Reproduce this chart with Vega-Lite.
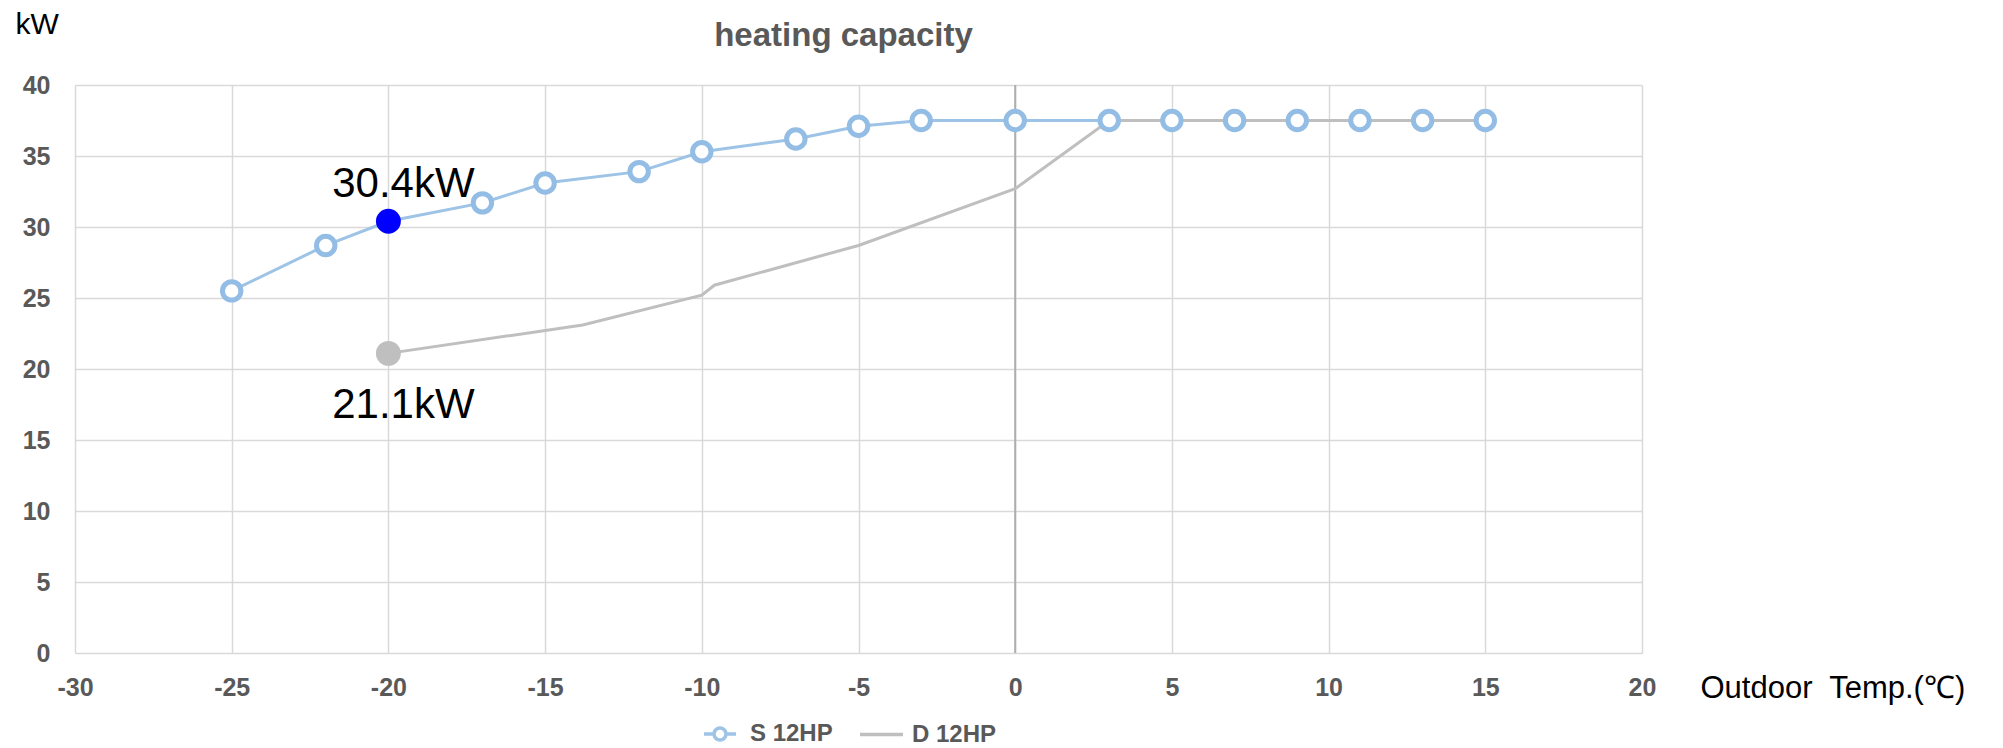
{
  "$schema": "https://vega.github.io/schema/vega-lite/v6.json",
  "autosize": "none",
  "width": 1567,
  "height": 568,
  "padding": {"left": 75, "top": 85, "right": 361, "bottom": 95},
  "background": "white",
  "title": {
    "text": "heating capacity",
    "frame": "group",
    "anchor": "middle",
    "offset": -37,
    "baseline": "alphabetic",
    "dx": -15,
    "dy": 33,
    "font": "Liberation Sans",
    "fontSize": 33,
    "fontWeight": "bold",
    "color": "#595959"
  },
  "config": {
    "font": "Liberation Sans",
    "view": {"stroke": null}
  },
  "datasets": {
    "cap": [
      {"series": "S 12HP", "t": -25, "kw": 25.5},
      {"series": "S 12HP", "t": -22, "kw": 28.7},
      {"series": "S 12HP", "t": -20, "kw": 30.4},
      {"series": "S 12HP", "t": -17, "kw": 31.7},
      {"series": "S 12HP", "t": -15, "kw": 33.1},
      {"series": "S 12HP", "t": -12, "kw": 33.9},
      {"series": "S 12HP", "t": -10, "kw": 35.3},
      {"series": "S 12HP", "t": -7, "kw": 36.2},
      {"series": "S 12HP", "t": -5, "kw": 37.1},
      {"series": "S 12HP", "t": -3, "kw": 37.5},
      {"series": "S 12HP", "t": 0, "kw": 37.5},
      {"series": "S 12HP", "t": 3, "kw": 37.5},
      {"series": "S 12HP", "t": 5, "kw": 37.5},
      {"series": "S 12HP", "t": 7, "kw": 37.5},
      {"series": "S 12HP", "t": 9, "kw": 37.5},
      {"series": "S 12HP", "t": 11, "kw": 37.5},
      {"series": "S 12HP", "t": 13, "kw": 37.5},
      {"series": "S 12HP", "t": 15, "kw": 37.5},
      {"series": "D 12HP", "t": -20, "kw": 21.1},
      {"series": "D 12HP", "t": -13.8, "kw": 23.1},
      {"series": "D 12HP", "t": -10, "kw": 25.2},
      {"series": "D 12HP", "t": -9.6, "kw": 25.9},
      {"series": "D 12HP", "t": -5, "kw": 28.7},
      {"series": "D 12HP", "t": 0, "kw": 32.7},
      {"series": "D 12HP", "t": 3, "kw": 37.5},
      {"series": "D 12HP", "t": 5, "kw": 37.5},
      {"series": "D 12HP", "t": 7, "kw": 37.5},
      {"series": "D 12HP", "t": 9, "kw": 37.5},
      {"series": "D 12HP", "t": 11, "kw": 37.5},
      {"series": "D 12HP", "t": 13, "kw": 37.5},
      {"series": "D 12HP", "t": 15, "kw": 37.5}
    ],
    "hl": [
      {"series": "S 12HP", "t": -20, "kw": 30.4, "label": "30.4kW"},
      {"series": "D 12HP", "t": -20, "kw": 21.1, "label": "21.1kW"}
    ],
    "zero": [{"t": 0}]
  },
  "encoding": {
    "x": {
      "field": "t",
      "type": "quantitative",
      "scale": {"domain": [-30, 20], "nice": false, "zero": false},
      "axis": {
        "values": [-30, -25, -20, -15, -10, -5, 0, 5, 10, 15, 20],
        "labelExpr": "'' + datum.value",
        "grid": true,
        "gridColor": "#D9D9D9",
        "gridWidth": 1.5,
        "domain": false,
        "ticks": false,
        "tickSize": 0,
        "labelPadding": 22,
        "labelFont": "Liberation Sans",
        "labelFontSize": 25,
        "labelFontWeight": "bold",
        "labelColor": "#595959",
        "labelFlush": false,
        "labelOverlap": false,
        "title": "Outdoor\u00a0 Temp.(℃)",
        "titleX": 1625,
        "titleY": 44,
        "titleAlign": "left",
        "titleAnchor": null,
        "titleBaseline": "alphabetic",
        "titleFont": "Liberation Sans",
        "titleFontSize": 31,
        "titleFontWeight": "normal",
        "titleColor": "#000000"
      }
    },
    "y": {
      "field": "kw",
      "type": "quantitative",
      "scale": {"domain": [0, 40], "nice": false},
      "axis": {
        "values": [0, 5, 10, 15, 20, 25, 30, 35, 40],
        "grid": true,
        "gridColor": "#D9D9D9",
        "gridWidth": 1.5,
        "domain": false,
        "ticks": false,
        "tickSize": 0,
        "labelPadding": 25,
        "labelFont": "Liberation Sans",
        "labelFontSize": 25,
        "labelFontWeight": "bold",
        "labelColor": "#595959",
        "labelOverlap": false,
        "title": "kW",
        "titleX": -60,
        "titleY": -52,
        "titleAngle": 0,
        "titleAlign": "left",
        "titleAnchor": null,
        "titleBaseline": "alphabetic",
        "titleFont": "Liberation Sans",
        "titleFontSize": 30,
        "titleFontWeight": "normal",
        "titleColor": "#000000"
      }
    }
  },
  "layer": [
    {
      "data": {"name": "zero"},
      "mark": {"type": "rule", "color": "#AEAEAE", "strokeWidth": 2},
      "encoding": {"x": {"field": "t", "type": "quantitative"}, "y": null}
    },
    {
      "data": {"name": "cap"},
      "transform": [{"filter": "datum.series === 'S 12HP'"}],
      "mark": {"type": "line", "strokeWidth": 3},
      "encoding": {
        "color": {
          "field": "series",
          "type": "nominal",
          "scale": {"domain": ["S 12HP", "D 12HP"], "range": ["#9DC3E6", "#BFBFBF"]},
          "legend": {
            "orient": "none",
            "legendX": 623,
            "legendY": 627,
            "direction": "horizontal",
            "title": null,
            "labelFont": "Liberation Sans",
            "labelFontSize": 24,
            "labelFontWeight": "bold",
            "labelColor": "#595959",
            "labelOffset": 8,
            "columnPadding": 20,
            "symbolSize": 1600,
            "symbolStrokeWidth": 3.5,
            "encode": {
              "symbols": {
                "update": {
                  "shape": {"signal": "datum.value === 'S 12HP' ? 'M-0.8,0H-0.3M0.3,0H0.8M0.3,0A0.3,0.3 0 1 1 -0.3,0A0.3,0.3 0 1 1 0.3,0' : 'M-1.1,0H1.05'"},
                  "fill": {"value": "white"},
                  "strokeWidth": {"value": 3.5},
                  "size": {"value": 1600}
                }
              }
            }
          }
        }
      }
    },
    {
      "data": {"name": "cap"},
      "transform": [{"filter": "datum.series === 'D 12HP'"}],
      "mark": {"type": "line", "strokeWidth": 3},
      "encoding": {
        "color": {"field": "series", "type": "nominal"}
      }
    },
    {
      "data": {"name": "cap"},
      "transform": [{"filter": "datum.series === 'S 12HP'"}],
      "mark": {"type": "point", "shape": "circle", "filled": true, "fill": "white", "stroke": "#93BDE4", "strokeWidth": 5, "size": 340, "opacity": 1}
    },
    {
      "data": {"name": "hl"},
      "mark": {"type": "point", "shape": "circle", "filled": true, "size": 620, "opacity": 1, "strokeWidth": 0},
      "encoding": {
        "fill": {"condition": {"test": "datum.series === 'S 12HP'", "value": "#0000FF"}, "value": "#BFBFBF"}
      }
    },
    {
      "data": {"name": "hl"},
      "transform": [{"filter": "datum.series === 'S 12HP'"}],
      "mark": {"type": "text", "font": "Liberation Sans", "fontSize": 42, "color": "#000000", "align": "center", "baseline": "alphabetic", "dx": 15, "dy": -24},
      "encoding": {"text": {"field": "label"}}
    },
    {
      "data": {"name": "hl"},
      "transform": [{"filter": "datum.series === 'D 12HP'"}],
      "mark": {"type": "text", "font": "Liberation Sans", "fontSize": 42, "color": "#000000", "align": "center", "baseline": "alphabetic", "dx": 15, "dy": 65},
      "encoding": {"text": {"field": "label"}}
    }
  ]
}
